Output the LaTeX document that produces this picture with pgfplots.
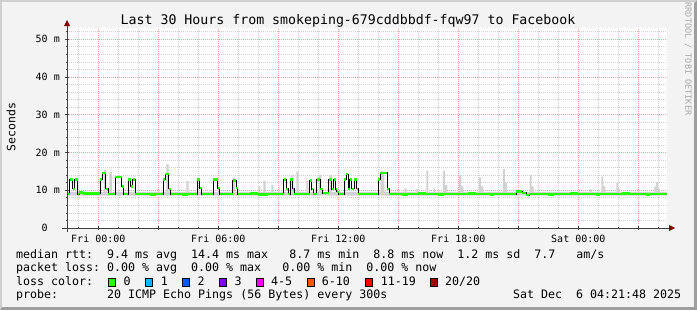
\documentclass[border=0pt]{standalone}
\usepackage{pgfplots}
\pgfplotsset{compat=1.18}
\usepackage{fontspec}
\setmainfont{DejaVu Sans Mono}
\newcommand\SP{\hphantom{0}}
\definecolor{back}{HTML}{F3F3F3}
\definecolor{shadeA}{HTML}{CFCFCF}
\definecolor{shadeB}{HTML}{9E9E9E}
\definecolor{minorgrid}{HTML}{CFCFCF}
\definecolor{majorgrid}{HTML}{F0A0A0}
\definecolor{axiscol}{HTML}{404040}
\definecolor{arrowcol}{HTML}{800000}
\definecolor{smoke}{HTML}{D2D2D2}
\definecolor{lc0}{HTML}{26FF00}
\definecolor{lc1}{HTML}{00B8FF}
\definecolor{lc2}{HTML}{0059FF}
\definecolor{lc3}{HTML}{7E00FF}
\definecolor{lc4}{HTML}{FF00FF}
\definecolor{lc6}{HTML}{FF5500}
\definecolor{lc11}{HTML}{FF0000}
\definecolor{lc20}{HTML}{A10000}
\definecolor{credit}{HTML}{A8A8A8}
\begin{document}
\frenchspacing
\begin{tikzpicture}[x=1bp,y=1bp]
\path[use as bounding box] (0,0) rectangle (697,310);
\fill[shadeB] (0,0) rectangle (697,310);
\fill[shadeA] (0,0) -- (0,310) -- (697,310) -- (694,307) -- (2,307) -- (2,3) -- cycle;
\fill[back] (2,3) rectangle (694,308);
\begin{axis}[
  at={(67bp,82bp)}, anchor=south west, scale only axis,
  width=600bp, height=200bp,
  xmin=-1.565, xmax=28.435, ymin=0, ymax=53,
  axis background/.style={fill=white},
  axis line style={draw=none},
  tickpos=left, tick align=center,
  major tick length=4bp, minor tick length=2bp,
  tick style={draw=axiscol, line width=0.8bp},
  xtick={0,3,...,27},
  xticklabels={Fri\SP 00:00,,Fri\SP 06:00,,Fri\SP 12:00,,Fri\SP 18:00,,Sat\SP 00:00,},
  minor xtick={-1,0,...,28},
  ytick={0,10,...,50},
  yticklabels={0\SP\SP,10\SP m,20\SP m,30\SP m,40\SP m,50\SP m},
  minor ytick={2,4,...,52},
  grid=both,
  major grid style={draw=majorgrid, line width=0.8bp, dash pattern=on 1bp off 1bp},
  minor grid style={draw=minorgrid, line width=0.8bp, dash pattern=on 1bp off 1bp},
  tick label style={font=\fontsize{10bp}{12bp}\selectfont, inner sep=0pt},
  xticklabel style={anchor=base, yshift=-12bp},
  yticklabel style={anchor=east, xshift=-5bp},
]
% smoke (ping spread)
\addplot[const plot, fill=smoke, draw=none] coordinates {
(-1.565,9.6)
(0.28,15.4)(0.4,9.6)
(0.55,14.8)(0.68,9.6)
(3.4,16.9)(3.52,9.6)
(4.4,12.4)(4.52,9.6)
(6.72,13.2)(6.84,9.6)
(8.0,11.0)(8.1,9.6)
(8.25,12.5)(8.37,9.6)
(8.65,11.4)(8.75,9.6)
(9.65,14.1)(9.75,9.6)
(9.9,15.0)(10.02,9.6)
(10.4,12.5)(10.5,9.6)
(11.03,14.1)(11.15,9.6)
(11.57,14.1)(11.68,9.6)
(14.1,15.0)(14.3,9.6)
(15.3,10.5)(15.42,9.6)
(15.9,10.4)(16.0,9.6)
(16.4,15.2)(16.5,9.6)
(16.75,10.5)(16.85,9.6)
(17.23,15.2)(17.33,11.4)(17.45,9.6)
(18.03,14.1)(18.13,11.2)(18.25,9.6)
(19.03,13.4)(19.13,11.0)(19.25,9.6)
(20.23,15.6)(20.33,12.0)(20.43,9.6)
(20.9,10.0)(21.3,9.6)
(21.57,14.1)(21.67,11.0)(21.77,9.6)
(24.57,10.3)(24.67,9.6)
(25.15,13.6)(25.25,11.0)(25.35,9.6)
(25.9,12.0)(26.0,10.5)(26.1,9.6)
(27.8,11.0)(27.88,12.2)(27.98,10.5)(28.08,9.6)
(28.435,9.6)(28.435,8.6)(-1.565,8.6)
} -- cycle;
% median rtt
\pgfplotstableread{
h v
-1.565 9.0
-1.42 12.8
-1.27 10.4
-1.17 12.8
-1.02 9.0
-0.95 9.4
-0.75 9.1
0.1 12.8
0.2 14.5
0.37 10.4
0.5 9.0
0.85 13.5
1.18 11.0
1.27 9.0
1.5 12.8
1.63 11.0
1.73 12.8
1.85 9.0
2.6 8.9
2.9 9.0
3.25 12.8
3.35 14.3
3.53 10.4
3.62 9.0
4.2 8.9
4.5 9.0
4.95 12.8
5.08 10.6
5.17 9.0
5.75 12.8
5.98 10.6
6.07 9.0
6.72 12.6
6.9 10.6
6.98 9.0
7.6 9.1
8.0 8.9
8.5 9.0
9.27 12.8
9.4 10.4
9.5 9.0
9.6 12.8
9.72 10.4
9.8 9.0
10.58 12.6
10.68 10.3
10.75 9.0
10.93 12.8
11.1 10.4
11.22 9.2
11.53 12.8
11.68 10.3
11.78 12.9
11.87 10.3
11.92 9.6
12.03 9.0
12.3 12.8
12.4 14.3
12.5 10.4
12.58 12.8
12.67 10.4
12.8 12.9
12.92 10.4
13.0 9.0
14.0 12.8
14.1 14.6
14.45 10.4
14.55 9.0
15.2 8.9
15.5 9.0
16.0 9.1
16.4 9.0
17.0 8.9
17.3 9.0
18.5 9.1
18.9 9.0
19.6 8.9
19.8 9.0
20.9 9.7
21.2 9.3
21.4 8.7
21.55 9.0
22.5 8.9
22.8 9.0
23.6 9.1
24.0 9.0
24.9 8.9
25.1 9.0
26.2 9.1
26.6 9.0
27.4 8.9
27.6 9.0
28.435 9.0
}\median
\addplot[const plot, draw=black, line width=1bp] table[x=h,y=v] {\median};
\addplot[jump mark left, draw=lc0, line width=2.4bp] table[x=h,y=v] {\median};
\end{axis}
% axis lines and arrows
\draw[axiscol, line width=1bp] (62,82) -- (670,82);
\fill[arrowcol] (669,79) -- (675,82) -- (669,85) -- cycle;
\draw[axiscol, line width=1bp] (67,78) -- (67,285);
\fill[arrowcol] (64,284) -- (67,290) -- (70,284) -- cycle;
% title and labels
\node[anchor=base, inner sep=0pt, font=\fontsize{13.25bp}{15bp}\selectfont] at (348,286) {Last\SP 30\SP Hours\SP from\SP smokeping-679cddbbdf-fqw97\SP to\SP Facebook};
\node[rotate=90, inner sep=0pt, font=\fontsize{11.5bp}{13bp}\selectfont] at (11,183) {Seconds};
\node[rotate=-90, inner sep=0pt, text=credit, font=\fontsize{8.5bp}{10bp}\selectfont] at (688,251) {RRDTOOL\SP /\SP TOBI\SP OETIKER};
% legend
\begin{scope}[every node/.style={anchor=base west, inner sep=0pt, font=\fontsize{11.63bp}{13bp}\selectfont}]
\node at (16,51.7) {median\SP rtt:\SP\SP 9.4\SP ms\SP avg\SP\SP 14.4\SP ms\SP max\SP\SP\SP 8.7\SP ms\SP min\SP\SP 8.8\SP ms\SP now\SP\SP 1.2\SP ms\SP sd\SP\SP 7.7\SP\SP\SP am/s};
\node at (16,38.3) {packet\SP loss:\SP 0.00\SP\%\SP avg\SP\SP 0.00\SP\%\SP max\SP\SP\SP 0.00\SP\%\SP min\SP\SP 0.00\SP\%\SP now};
\node at (16,24.7) {loss\SP color:};
\node at (16,11.5) {probe:\SP\SP\SP\SP\SP\SP\SP 20\SP ICMP\SP Echo\SP Pings\SP (56\SP Bytes)\SP every\SP 300s};
\node at (513,11.5) {Sat\SP Dec\SP\SP 6\SP 04:21:48\SP 2025};
\foreach \bx/\lx/\col/\lab in {108.5/123.3/lc0/0, 145.7/160.7/lc1/1, 182.7/197.3/lc2/2, 219.3/234.3/lc3/3, 256.7/271/lc4/4-5, 307.3/321.7/lc6/6-10, 365/380.7/lc11/11-19, 430.7/445/lc20/20\slash 20}{
  \filldraw[fill=\col, draw=black, line width=0.9bp] (\bx,23.8) rectangle (\bx+7,31.2);
  \node at (\lx,24.7) {\lab};
}
\end{scope}
\end{tikzpicture}
\end{document}
